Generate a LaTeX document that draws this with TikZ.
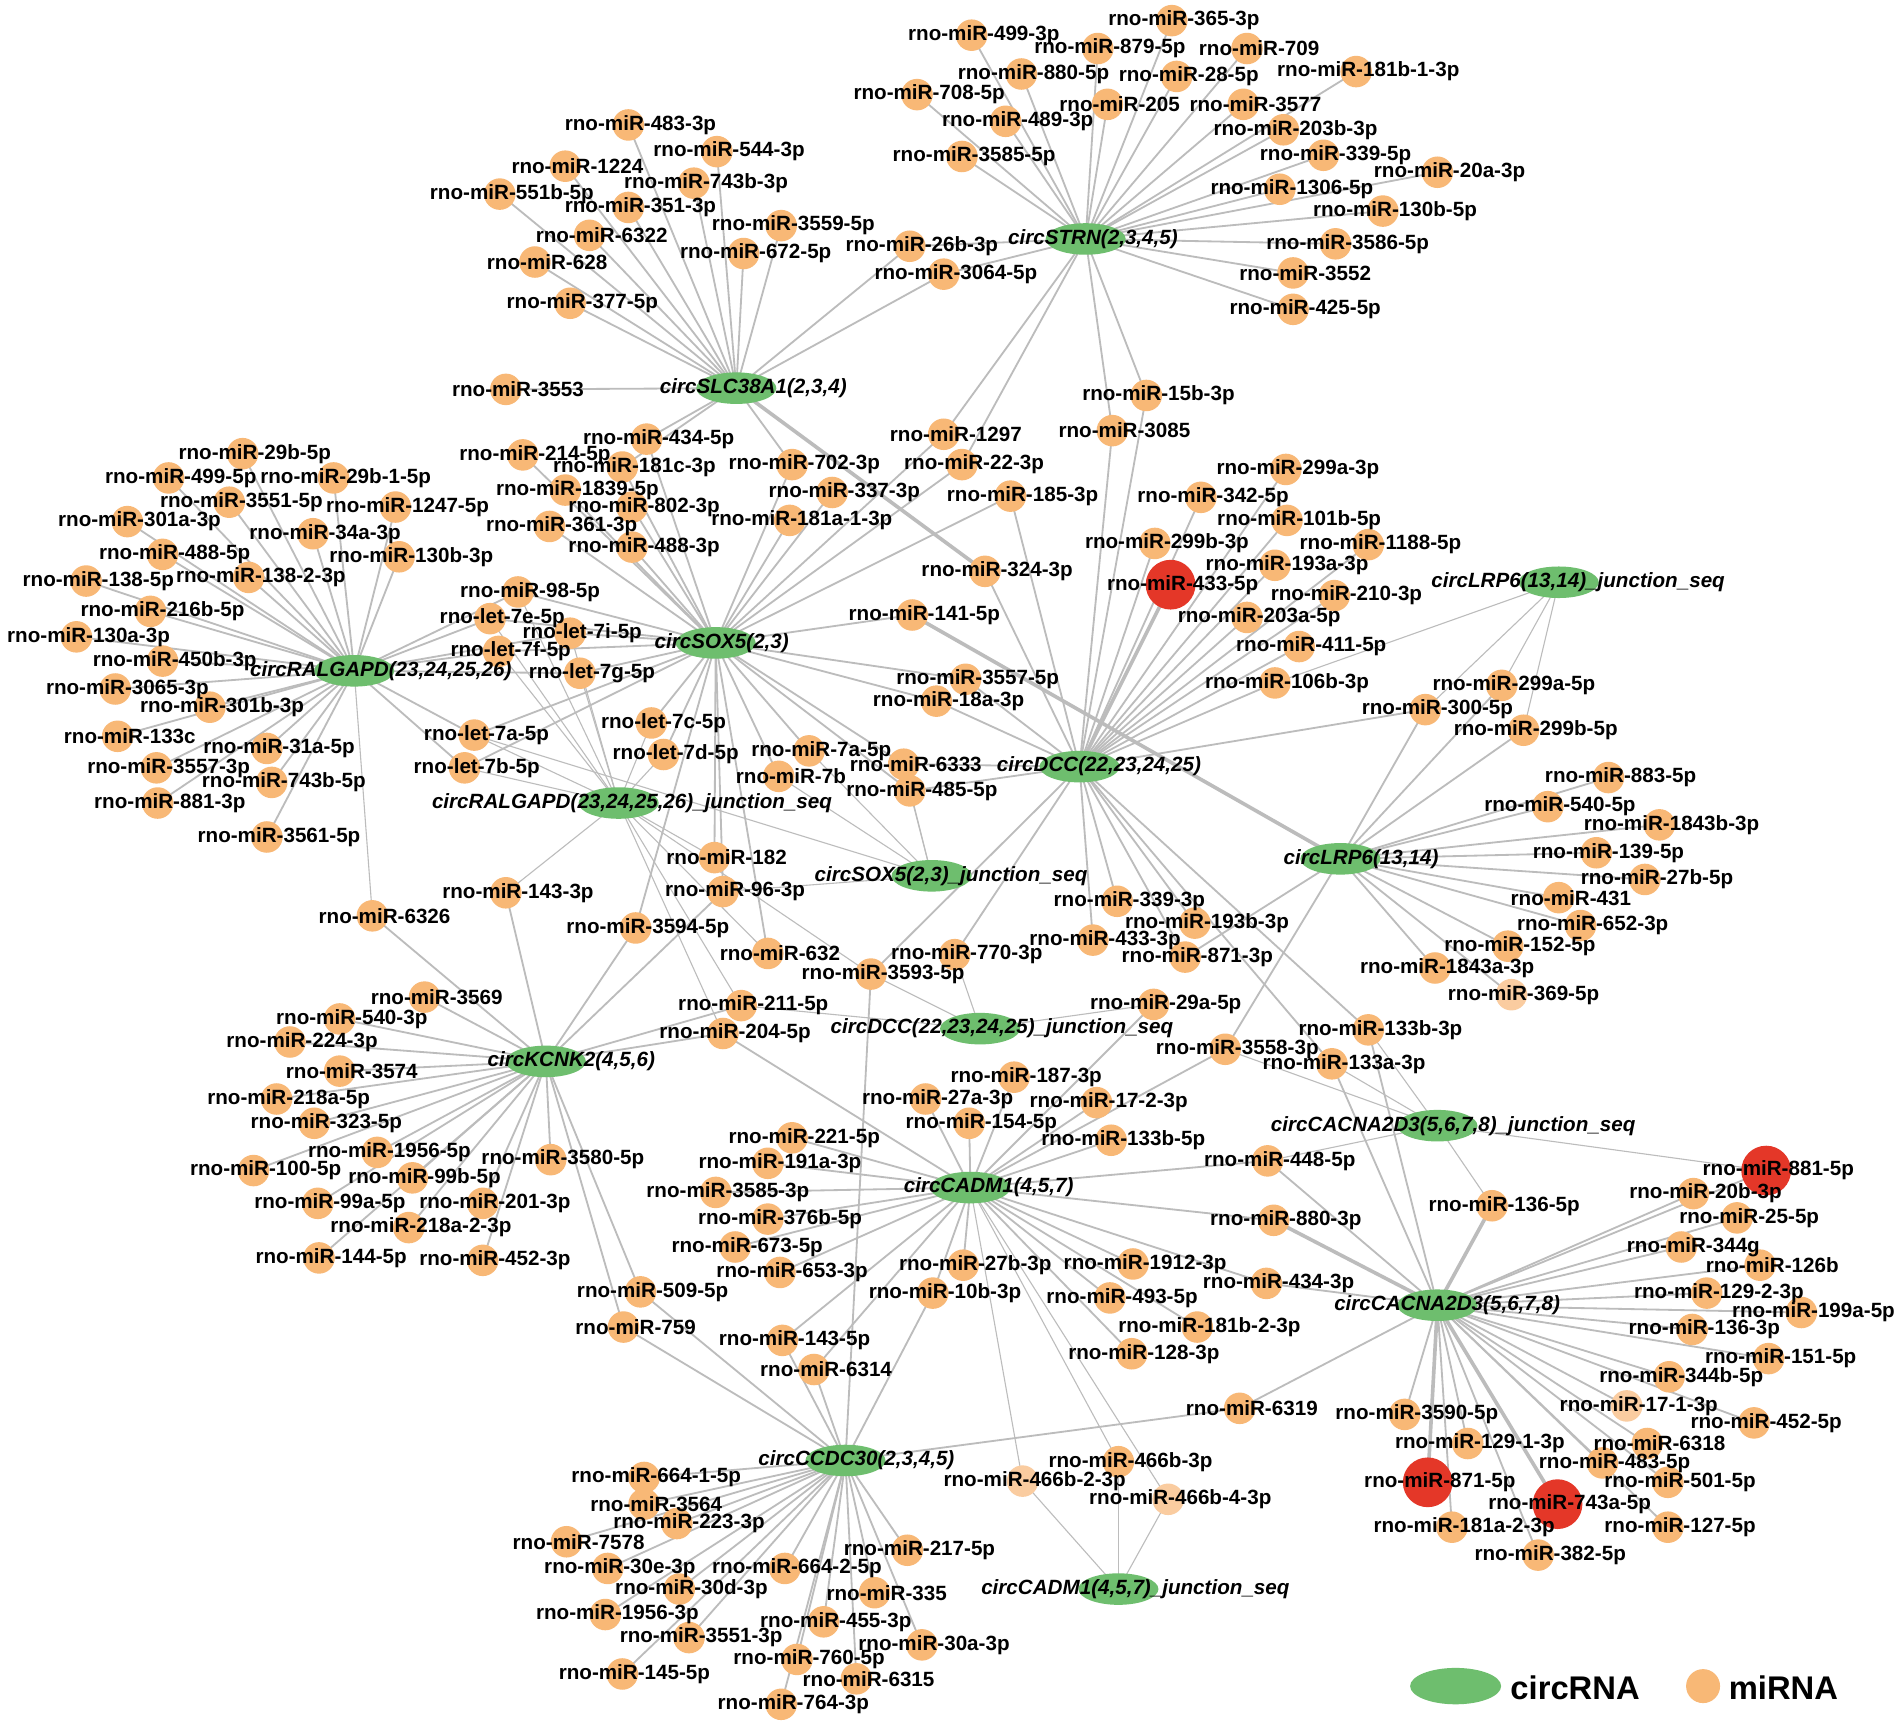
\documentclass[tikz,border=0pt]{standalone}
\usepackage{fontspec}
\setmainfont{Liberation Sans}
\usetikzlibrary{shapes.geometric}
\definecolor{mirc}{RGB}{248,184,118}
\definecolor{mirlight}{RGB}{250,204,160}
\definecolor{redc}{RGB}{228,55,40}
\definecolor{circc}{RGB}{110,190,110}
\definecolor{edgec}{RGB}{188,188,188}
\pgfdeclarelayer{bg}\pgfdeclarelayer{fg}\pgfsetlayers{bg,main,fg}
\tikzset{
 mir/.style={circle,fill=mirc,draw=none,minimum size=26pt,inner sep=0pt},
 mirl/.style={mir,fill=mirlight},
 redn/.style={circle,fill=redc,draw=none,minimum size=41pt,inner sep=0pt},
 circn/.style={ellipse,fill=circc,draw=none,minimum width=66pt,minimum height=26pt,inner sep=0pt},
 lab/.style={inner sep=0pt,font=\fontsize{17}{17}\selectfont\bfseries},
 clab/.style={inner sep=0pt,font=\fontsize{17}{17}\selectfont\bfseries\itshape},
 leglab/.style={anchor=west,inner sep=0pt,font=\fontsize{27}{27}\selectfont\bfseries},
 edge/.style={draw=edgec,line width=1.5pt},
 thinedge/.style={draw=edgec,line width=0.9pt},
 thickedge/.style={draw=edgec,line width=3pt},
}
\newcommand\mirnode[4]{\node[mir] (#1) at (#2-10,#3) {};\begin{pgfonlayer}{fg}\node[lab] (#1t) at (#2,#3) {#4};\end{pgfonlayer}}
\newcommand\mirlnode[4]{\node[mirl] (#1) at (#2-10,#3) {};\begin{pgfonlayer}{fg}\node[lab] (#1t) at (#2,#3) {#4};\end{pgfonlayer}}
\newcommand\rednode[4]{\node[redn] (#1) at (#2-10,#3) {};\begin{pgfonlayer}{fg}\node[lab] (#1t) at (#2,#3) {#4};\end{pgfonlayer}}
\newcommand\circnode[5]{\node[circn] (#1) at (#2,#3) {};\begin{pgfonlayer}{fg}\node[clab] (#1t) at (#4,#3) {#5};\end{pgfonlayer}}
\begin{document}
\begin{tikzpicture}[x=1pt,y=-1pt]
\begin{pgfonlayer}{bg}\fill[white] (0,0) rectangle (1568,1425);\end{pgfonlayer}
\useasboundingbox (0,0) rectangle (1568,1425);
% ---------- hubs
\circnode{STRN}{895}{197}{901}{circSTRN(2,3,4,5)}
\circnode{SLC}{607}{320}{621}{circSLC38A1(2,3,4)}
\circnode{SOX}{590}{530}{595}{circSOX5(2,3)}
\circnode{RAL}{292}{553}{314}{circRALGAPD(23,24,25,26)}
\circnode{RALJ}{510}{662}{521}{circRALGAPD(23,24,25,26)\_junction\_seq}
\circnode{SOXJ}{768}{722}{784}{circSOX5(2,3)\_junction\_seq}
\circnode{DCC}{890}{632}{906}{circDCC(22,23,24,25)}
\circnode{DCCJ}{808}{848}{826}{circDCC(22,23,24,25)\_junction\_seq}
\circnode{LRPJ}{1285}{480}{1301}{circLRP6(13,14)\_junction\_seq}
\circnode{LRP}{1105}{708}{1122}{circLRP6(13,14)}
\circnode{CACJ}{1185}{928}{1198}{circCACNA2D3(5,6,7,8)\_junction\_seq}
\circnode{CAC}{1185}{1076}{1193}{circCACNA2D3(5,6,7,8)}
\circnode{KCN}{450}{875}{471}{circKCNK2(4,5,6)}
\circnode{CAD}{800}{979}{815}{circCADM1(4,5,7)}
\circnode{CADJ}{922}{1310}{936}{circCADM1(4,5,7)\_junction\_seq}
\circnode{CCD}{697}{1204}{706}{circCCDC30(2,3,4,5)}
% ---------- STRN cluster
\mirnode{a4993p}{811}{29}{rno-miR-499-3p}
\mirnode{a3653p}{976}{17}{rno-miR-365-3p}
\mirnode{a8795p}{915}{40}{rno-miR-879-5p}
\mirnode{a709}{1038}{40}{rno-miR-709}
\mirnode{a8805p}{852}{61}{rno-miR-880-5p}
\mirnode{a285p}{980}{63}{rno-miR-28-5p}
\mirnode{a181b13p}{1128}{59}{rno-miR-181b-1-3p}
\mirnode{a7085p}{766}{78}{rno-miR-708-5p}
\mirnode{a205}{923}{86}{rno-miR-205}
\mirnode{a3577}{1035}{86}{rno-miR-3577}
\mirnode{a4893p}{839}{100}{rno-miR-489-3p}
\mirnode{a203b3p}{1068}{107}{rno-miR-203b-3p}
\mirnode{a35855p}{803}{129}{rno-miR-3585-5p}
\mirnode{a3395p}{1101}{128}{rno-miR-339-5p}
\mirnode{a20a3p}{1195}{142}{rno-miR-20a-3p}
\mirnode{a13065p}{1065}{156}{rno-miR-1306-5p}
\mirnode{a130b5p}{1150}{174}{rno-miR-130b-5p}
\mirnode{a35865p}{1111}{201}{rno-miR-3586-5p}
\mirnode{a3552}{1076}{225}{rno-miR-3552}
\mirnode{a4255p}{1076}{255}{rno-miR-425-5p}
% ---------- SLC cluster
\mirnode{a4833p}{528}{103}{rno-miR-483-3p}
\mirnode{a5443p}{601}{125}{rno-miR-544-3p}
\mirnode{a1224}{476}{137}{rno-miR-1224}
\mirnode{a743b3p}{582}{151}{rno-miR-743b-3p}
\mirnode{a551b5p}{422}{160}{rno-miR-551b-5p}
\mirnode{a3513p}{528}{171}{rno-miR-351-3p}
\mirnode{a35595p}{654}{186}{rno-miR-3559-5p}
\mirnode{a6322}{496}{194}{rno-miR-6322}
\mirnode{a628}{451}{216}{rno-miR-628}
\mirnode{a6725p}{623}{209}{rno-miR-672-5p}
\mirnode{a3775p}{480}{250}{rno-miR-377-5p}
\mirnode{a3553}{427}{321}{rno-miR-3553}
\mirnode{a26b3p}{760}{203}{rno-miR-26b-3p}
\mirnode{a30645p}{788}{226}{rno-miR-3064-5p}
% ---------- SOX cluster
\mirnode{a4345p}{543}{362}{rno-miR-434-5p}
\mirnode{a2145p}{441}{375}{rno-miR-214-5p}
\mirnode{a181c3p}{523}{385}{rno-miR-181c-3p}
\mirnode{a7023p}{663}{383}{rno-miR-702-3p}
\mirnode{a18395p}{476}{404}{rno-miR-1839-5p}
\mirnode{a3373p}{696}{406}{rno-miR-337-3p}
\mirnode{a8023p}{531}{418}{rno-miR-802-3p}
\mirnode{a3613p}{463}{434}{rno-miR-361-3p}
\mirnode{a181a13p}{661}{429}{rno-miR-181a-1-3p}
\mirnode{a4883p}{531}{451}{rno-miR-488-3p}
\mirnode{a985p}{437}{488}{rno-miR-98-5p}
\mirnode{l7e}{414}{510}{rno-let-7e-5p}
\mirnode{l7i}{480}{522}{rno-let-7i-5p}
\mirnode{l7f}{421}{537}{rno-let-7f-5p}
\mirnode{l7g}{488}{555}{rno-let-7g-5p}
\mirnode{l7a}{401}{606}{rno-let-7a-5p}
\mirnode{l7c}{547}{596}{rno-let-7c-5p}
\mirnode{l7b}{393}{633}{rno-let-7b-5p}
\mirnode{l7d}{557}{622}{rno-let-7d-5p}
\mirnode{a7a5p}{677}{619}{rno-miR-7a-5p}
\mirnode{a7b}{652}{640}{rno-miR-7b}
\mirnode{a6333}{755}{630}{rno-miR-6333}
\mirnode{a4855p}{760}{652}{rno-miR-485-5p}
\mirnode{a1415p}{762}{507}{rno-miR-141-5p}
\mirnode{a1297}{788}{358}{rno-miR-1297}
\mirnode{a223p}{803}{383}{rno-miR-22-3p}
\mirnode{a1853p}{843}{409}{rno-miR-185-3p}
\mirnode{a3243p}{822}{471}{rno-miR-324-3p}
\mirnode{a35575p}{806}{560}{rno-miR-3557-5p}
\mirnode{a18a3p}{782}{578}{rno-miR-18a-3p}
% ---------- RAL cluster
\mirnode{a29b5p}{210}{374}{rno-miR-29b-5p}
\mirnode{a4995p}{149}{394}{rno-miR-499-5p}
\mirnode{a29b15p}{285}{394}{rno-miR-29b-1-5p}
\mirnode{a35515p}{199}{414}{rno-miR-3551-5p}
\mirnode{a12475p}{336}{418}{rno-miR-1247-5p}
\mirnode{a301a3p}{115}{430}{rno-miR-301a-3p}
\mirnode{a34a3p}{268}{440}{rno-miR-34a-3p}
\mirnode{a4885p}{144}{457}{rno-miR-488-5p}
\mirnode{a130b3p}{339}{459}{rno-miR-130b-3p}
\mirnode{a1385p}{81}{479}{rno-miR-138-5p}
\mirnode{a13823p}{215}{476}{rno-miR-138-2-3p}
\mirnode{a216b5p}{134}{504}{rno-miR-216b-5p}
\mirnode{a130a3p}{73}{525}{rno-miR-130a-3p}
\mirnode{a450b3p}{144}{545}{rno-miR-450b-3p}
\mirnode{a30653p}{105}{568}{rno-miR-3065-3p}
\mirnode{a301b3p}{183}{583}{rno-miR-301b-3p}
\mirnode{a133c}{107}{607}{rno-miR-133c}
\mirnode{a31a5p}{230}{617}{rno-miR-31a-5p}
\mirnode{a35573p}{139}{633}{rno-miR-3557-3p}
\mirnode{a743b5p}{234}{645}{rno-miR-743b-5p}
\mirnode{a8813p}{140}{662}{rno-miR-881-3p}
\mirnode{a35615p}{230}{690}{rno-miR-3561-5p}
\mirnode{a6326}{317}{755}{rno-miR-6326}
% ---------- middle
\mirnode{a182}{599}{707}{rno-miR-182}
\mirnode{a1433p}{427}{736}{rno-miR-143-3p}
\mirnode{a963p}{606}{735}{rno-miR-96-3p}
\mirnode{a35945p}{534}{765}{rno-miR-3594-5p}
\mirnode{a632}{643}{786}{rno-miR-632}
\mirnode{a7703p}{797}{787}{rno-miR-770-3p}
\mirnode{a35935p}{728}{803}{rno-miR-3593-5p}
\mirnode{a2115p}{621}{829}{rno-miR-211-5p}
\mirnode{a2045p}{606}{852}{rno-miR-204-5p}
% ---------- DCC cluster
\mirnode{a15b3p}{955}{326}{rno-miR-15b-3p}
\mirnode{a3085}{927}{355}{rno-miR-3085}
\mirnode{a299a3p}{1070}{387}{rno-miR-299a-3p}
\mirnode{a3425p}{1000}{410}{rno-miR-342-5p}
\mirnode{a101b5p}{1071}{429}{rno-miR-101b-5p}
\mirnode{a299b3p}{962}{448}{rno-miR-299b-3p}
\mirnode{a11885p}{1138}{449}{rno-miR-1188-5p}
\mirnode{a193a3p}{1061}{466}{rno-miR-193a-3p}
\rednode{a4335p}{975}{482}{rno-miR-433-5p}
\mirnode{a2103p}{1110}{491}{rno-miR-210-3p}
\mirnode{a203a5p}{1038}{509}{rno-miR-203a-5p}
\mirnode{a4115p}{1081}{533}{rno-miR-411-5p}
\mirnode{a106b3p}{1061}{563}{rno-miR-106b-3p}
\mirnode{a3393p}{931}{743}{rno-miR-339-3p}
\mirnode{a193b3p}{995}{761}{rno-miR-193b-3p}
\mirnode{a4333p}{911}{775}{rno-miR-433-3p}
\mirnode{a8713p}{987}{789}{rno-miR-871-3p}
\mirnode{a29a5p}{961}{828}{rno-miR-29a-5p}
\mirnode{a35583p}{1020}{865}{rno-miR-3558-3p}
\mirnode{a133b3p}{1138}{849}{rno-miR-133b-3p}
\mirnode{a133a3p}{1108}{877}{rno-miR-133a-3p}
% ---------- LRP cluster
\mirnode{a299a5p}{1248}{565}{rno-miR-299a-5p}
\mirnode{a3005p}{1185}{585}{rno-miR-300-5p}
\mirnode{a299b5p}{1266}{602}{rno-miR-299b-5p}
\mirnode{a8835p}{1336}{641}{rno-miR-883-5p}
\mirnode{a5405p}{1286}{665}{rno-miR-540-5p}
\mirnode{a1843b3p}{1378}{680}{rno-miR-1843b-3p}
\mirnode{a1395p}{1326}{703}{rno-miR-139-5p}
\mirnode{a27b5p}{1366}{725}{rno-miR-27b-5p}
\mirnode{a431}{1295}{740}{rno-miR-431}
\mirnode{a6523p}{1313}{763}{rno-miR-652-3p}
\mirnode{a1525p}{1253}{780}{rno-miR-152-5p}
\mirnode{a1843a3p}{1193}{798}{rno-miR-1843a-3p}
\mirlnode{a3695p}{1256}{820}{rno-miR-369-5p}
% ---------- CAC cluster
\mirnode{a4485p}{1055}{957}{rno-miR-448-5p}
\mirnode{a1365p}{1240}{994}{rno-miR-136-5p}
\mirnode{a8803p}{1060}{1006}{rno-miR-880-3p}
\rednode{a8815p}{1466}{965}{rno-miR-881-5p}
\mirnode{a20b3p}{1406}{984}{rno-miR-20b-3p}
\mirnode{a255p}{1442}{1004}{rno-miR-25-5p}
\mirnode{a344g}{1396}{1028}{rno-miR-344g}
\mirnode{a126b}{1461}{1043}{rno-miR-126b}
\mirnode{a12923p}{1417}{1066}{rno-miR-129-2-3p}
\mirnode{a199a5p}{1495}{1082}{rno-miR-199a-5p}
\mirnode{a1363p}{1405}{1096}{rno-miR-136-3p}
\mirnode{a1515p}{1468}{1120}{rno-miR-151-5p}
\mirnode{a344b5p}{1386}{1135}{rno-miR-344b-5p}
\mirlnode{a1713p}{1351}{1159}{rno-miR-17-1-3p}
\mirnode{a4525p}{1456}{1173}{rno-miR-452-5p}
\mirnode{a6318}{1368}{1190}{rno-miR-6318}
\mirnode{a35905p}{1168}{1166}{rno-miR-3590-5p}
\mirnode{a12913p}{1220}{1190}{rno-miR-129-1-3p}
\mirnode{a4835p}{1331}{1206}{rno-miR-483-5p}
\rednode{a8715p}{1187}{1222}{rno-miR-871-5p}
\mirnode{a5015p}{1385}{1222}{rno-miR-501-5p}
\rednode{a743a5p}{1294}{1240}{rno-miR-743a-5p}
\mirnode{a181a23p}{1207}{1259}{rno-miR-181a-2-3p}
\mirnode{a1275p}{1385}{1259}{rno-miR-127-5p}
\mirnode{a3825p}{1278}{1282}{rno-miR-382-5p}
\mirnode{a4343p}{1054}{1058}{rno-miR-434-3p}
\mirnode{a6319}{1032}{1161}{rno-miR-6319}
% ---------- KCN cluster
\mirnode{a3569}{360}{822}{rno-miR-3569}
\mirnode{a5403p}{290}{840}{rno-miR-540-3p}
\mirnode{a2243p}{249}{859}{rno-miR-224-3p}
\mirnode{a3574}{290}{883}{rno-miR-3574}
\mirnode{a218a5p}{238}{906}{rno-miR-218a-5p}
\mirnode{a3235p}{269}{926}{rno-miR-323-5p}
\mirnode{a19565p}{321}{950}{rno-miR-1956-5p}
\mirnode{a1005p}{219}{965}{rno-miR-100-5p}
\mirnode{a99b5p}{350}{971}{rno-miR-99b-5p}
\mirnode{a35805p}{464}{956}{rno-miR-3580-5p}
\mirnode{a99a5p}{272}{992}{rno-miR-99a-5p}
\mirnode{a2013p}{408}{992}{rno-miR-201-3p}
\mirnode{a218a23p}{347}{1012}{rno-miR-218a-2-3p}
\mirnode{a1445p}{273}{1037}{rno-miR-144-5p}
\mirnode{a4523p}{408}{1039}{rno-miR-452-3p}
\mirnode{a5095p}{538}{1065}{rno-miR-509-5p}
\mirnode{a759}{524}{1094}{rno-miR-759}
% ---------- CAD cluster
\mirnode{a1873p}{846}{888}{rno-miR-187-3p}
\mirnode{a27a3p}{773}{906}{rno-miR-27a-3p}
\mirnode{a1723p}{914}{909}{rno-miR-17-2-3p}
\mirnode{a1545p}{809}{926}{rno-miR-154-5p}
\mirnode{a133b5p}{926}{940}{rno-miR-133b-5p}
\mirnode{a2215p}{663}{938}{rno-miR-221-5p}
\mirnode{a191a3p}{643}{959}{rno-miR-191a-3p}
\mirnode{a35853p}{600}{983}{rno-miR-3585-3p}
\mirnode{a376b5p}{643}{1005}{rno-miR-376b-5p}
\mirnode{a6735p}{616}{1028}{rno-miR-673-5p}
\mirnode{a6533p}{653}{1049}{rno-miR-653-3p}
\mirnode{a27b3p}{804}{1043}{rno-miR-27b-3p}
\mirnode{a10b3p}{779}{1066}{rno-miR-10b-3p}
\mirnode{a19123p}{944}{1042}{rno-miR-1912-3p}
\mirnode{a4935p}{925}{1070}{rno-miR-493-5p}
\mirnode{a181b23p}{997}{1094}{rno-miR-181b-2-3p}
\mirnode{a1283p}{943}{1116}{rno-miR-128-3p}
\mirnode{a1435p}{655}{1105}{rno-miR-143-5p}
\mirnode{a6314}{681}{1129}{rno-miR-6314}
\mirnode{a466b3p}{932}{1205}{rno-miR-466b-3p}
\mirlnode{a466b23p}{853}{1221}{rno-miR-466b-2-3p}
\mirlnode{a466b43p}{973}{1236}{rno-miR-466b-4-3p}
% ---------- CCD cluster
\mirnode{a66415p}{541}{1218}{rno-miR-664-1-5p}
\mirnode{a3564}{541}{1240}{rno-miR-3564}
\mirnode{a2233p}{568}{1256}{rno-miR-223-3p}
\mirnode{a7578}{477}{1271}{rno-miR-7578}
\mirnode{a2175p}{758}{1278}{rno-miR-217-5p}
\mirnode{a30e3p}{511}{1293}{rno-miR-30e-3p}
\mirnode{a66425p}{657}{1293}{rno-miR-664-2-5p}
\mirnode{a30d3p}{570}{1310}{rno-miR-30d-3p}
\mirnode{a335}{731}{1313}{rno-miR-335}
\mirnode{a19563p}{509}{1331}{rno-miR-1956-3p}
\mirnode{a4553p}{689}{1337}{rno-miR-455-3p}
\mirnode{a35513p}{578}{1350}{rno-miR-3551-3p}
\mirnode{a30a3p}{770}{1356}{rno-miR-30a-3p}
\mirnode{a7605p}{667}{1368}{rno-miR-760-5p}
\mirnode{a1455p}{523}{1380}{rno-miR-145-5p}
\mirnode{a6315}{716}{1384}{rno-miR-6315}
\mirnode{a7643p}{654}{1405}{rno-miR-764-3p}
% ---------- legend
\node[circn,minimum width=75pt,minimum height=30pt] (legc) at (1200,1390) {};
\node[leglab] (legct) at (1245,1391) {circRNA};
\node[mir,minimum size=28pt] (legm) at (1404,1390) {};
\node[leglab] (legmt) at (1425,1391) {miRNA};
% ---------- edges
\begin{pgfonlayer}{bg}
\foreach \m in {a4993p,a3653p,a8795p,a709,a8805p,a285p,a181b13p,a7085p,a205,a3577,a4893p,a203b3p,a35855p,a3395p,a20a3p,a13065p,a130b5p,a35865p,a3552,a4255p,a26b3p,a30645p,a15b3p,a3085,a1297,a223p}
  \draw[edge] (STRN.center) -- (\m.center);
\foreach \m in {a4833p,a5443p,a1224,a743b3p,a551b5p,a3513p,a35595p,a6322,a628,a6725p,a3775p,a3553,a26b3p,a30645p,a4345p,a181c3p,a7023p}
  \draw[edge] (SLC.center) -- (\m.center);
\foreach \m in {a4345p,a2145p,a181c3p,a7023p,a18395p,a3373p,a8023p,a3613p,a181a13p,a4883p,a985p,l7e,l7i,l7f,l7g,l7a,l7b,l7c,l7d,a1415p,a1297,a223p,a1853p,a35575p,a18a3p,a7a5p,a7b,a6333,a4855p,a182,a963p,a35945p,a632}
  \draw[edge] (SOX.center) -- (\m.center);
\foreach \m in {a29b5p,a4995p,a29b15p,a35515p,a12475p,a301a3p,a34a3p,a4885p,a130b3p,a1385p,a13823p,a216b5p,a130a3p,a450b3p,a30653p,a301b3p,a133c,a31a5p,a35573p,a743b5p,a8813p,a35615p,a985p,l7e,l7i,l7f,l7g,l7a,l7b}
  \draw[edge] (RAL.center) -- (\m.center);
\draw[thinedge] (RAL.center) -- (a6326.center);
\foreach \m in {l7e,l7i,l7f,l7g,l7a,l7b,l7c,l7d,a985p,a182,a632,a2115p,a2045p,a1433p,a35935p}
  \draw[thinedge] (RALJ.center) -- (\m.center);
\foreach \m in {a7a5p,a7b,a4855p,a6333,a963p,l7a}
  \draw[thinedge] (SOXJ.center) -- (\m.center);
\foreach \m in {a15b3p,a3085,a299a3p,a3425p,a101b5p,a299b3p,a11885p,a193a3p,a2103p,a203a5p,a4115p,a106b3p,a3393p,a193b3p,a4333p,a8713p,a133b3p,a133a3p,a7703p,a3005p,a3243p,a1853p,a35575p,a18a3p,a6333,a4855p,a35935p}
  \draw[edge] (DCC.center) -- (\m.center);
\foreach \m in {a7703p,a35935p,a2115p,a29a5p}
  \draw[thinedge] (DCCJ.center) -- (\m.center);
\foreach \m in {a299a5p,a3005p,a299b5p,a8835p,a5405p,a1843b3p,a1395p,a27b5p,a431,a6523p,a1525p,a1843a3p,a3695p,a35583p,a8713p}
  \draw[edge] (LRP.center) -- (\m.center);
\foreach \m in {a299a5p,a3005p,a299b5p,a106b3p}
  \draw[thinedge] (LRPJ.center) -- (\m.center);
\foreach \m in {a4485p,a4343p,a6319,a8815p,a20b3p,a255p,a344g,a126b,a12923p,a199a5p,a1363p,a1515p,a344b5p,a1713p,a4525p,a6318,a35905p,a12913p,a4835p,a181a23p,a1275p,a3825p,a133b3p,a133a3p,a5015p}
  \draw[edge] (CAC.center) -- (\m.center);
\foreach \m in {a4485p,a1365p,a133b3p,a133a3p,a8815p,a35583p}
  \draw[thinedge] (CACJ.center) -- (\m.center);
\foreach \m in {a1873p,a27a3p,a1723p,a1545p,a133b5p,a2215p,a191a3p,a35853p,a376b5p,a6735p,a6533p,a27b3p,a10b3p,a19123p,a4935p,a181b23p,a1283p,a1435p,a6314,a4485p,a8803p,a4343p,a29a5p,a35583p,a2045p}
  \draw[edge] (CAD.center) -- (\m.center);
\foreach \m in {a466b3p,a466b23p,a466b43p}
  \draw[thinedge] (CAD.center) -- (\m.center);
\foreach \m in {a466b3p,a466b23p,a466b43p}
  \draw[thinedge] (CADJ.center) -- (\m.center);
\foreach \m in {a66415p,a3564,a2233p,a7578,a2175p,a30e3p,a66425p,a30d3p,a335,a19563p,a4553p,a35513p,a30a3p,a7605p,a1455p,a6315,a7643p,a5095p,a759,a1435p,a6314,a6319,a35935p,a10b3p}
  \draw[edge] (CCD.center) -- (\m.center);
\foreach \m in {a3569,a5403p,a2243p,a3574,a218a5p,a3235p,a19565p,a1005p,a99b5p,a35805p,a99a5p,a2013p,a218a23p,a1445p,a4523p,a6326,a35945p,a1433p,a5095p,a759,a963p,a2045p,a2115p}
  \draw[edge] (KCN.center) -- (\m.center);
% thick connectors
\draw[thickedge] (DCC.center) -- (a4335p.center);
\draw[thickedge] (SLC.center) -- (a3243p.center);
\draw[thickedge] (LRP.center) -- (a1415p.center);
\draw[thickedge] (CAC.center) -- (a1365p.center);
\draw[thickedge] (CAC.center) -- (a8803p.center);
\draw[thickedge] (CAC.center) -- (a743a5p.center);
\draw[thickedge] (CAC.center) -- (a8715p.center);
\end{pgfonlayer}
\end{tikzpicture}
\end{document}
